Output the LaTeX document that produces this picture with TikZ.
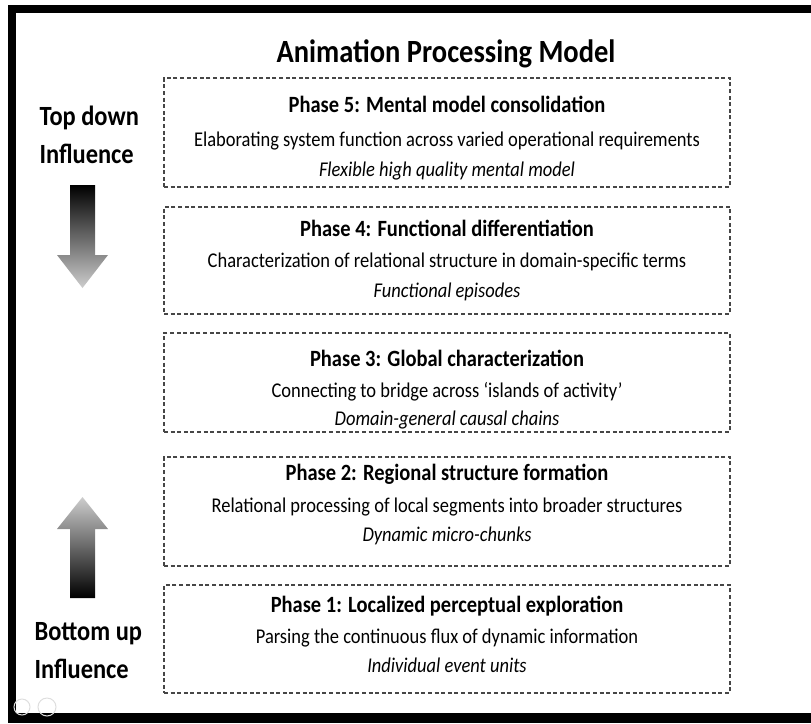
\documentclass[tikz,border=0pt]{standalone}
\usepackage{fontspec}
\setmainfont{Carlito}[FakeStretch=0.88]
\definecolor{dashgray}{RGB}{70,70,70}
\definecolor{iconGray}{RGB}{222,222,222}
\definecolor{tipGray}{RGB}{205,205,205}

\begin{document}
\begin{tikzpicture}[x=1pt,y=-1pt,
  phasebox/.style={draw=dashgray, line width=1.3pt, dash pattern=on 4pt off 2.6pt,
    minimum width=566pt, inner sep=0pt},
  head/.style={font=\fontsize{23.3}{27}\selectfont\bfseries, anchor=base},
  body/.style={font=\fontsize{21}{25}\selectfont, anchor=base},
  note/.style={font=\fontsize{21}{25}\selectfont\itshape, anchor=base},
  side/.style={font=\fontsize{27.8}{33}\selectfont\bfseries, anchor=base west}]
  \useasboundingbox (0,0) rectangle (811,723);
  %% frame (top, left, bottom)
  \fill[black] (8,5) rectangle (811,13);
  \fill[black] (8,5) rectangle (16,723);
  \fill[black] (8,713) rectangle (811,723);
  %% title
  \node[font=\fontsize{32.4}{38}\selectfont\bfseries, anchor=base] (title) at (446,62) {Animation Processing Model};
  %% phase boxes
  \node[phasebox, minimum height=109pt] (p5) at (447,132.5) {};
  \node[phasebox, minimum height=107pt] (p4) at (447,260.5) {};
  \node[phasebox, minimum height=99pt]  (p3) at (447,382.5) {};
  \node[phasebox, minimum height=109pt] (p2) at (447,511.5) {};
  \node[phasebox, minimum height=108pt] (p1) at (447,639) {};
  %% phase texts
  \node[head] (p5a) at (447,112) {Phase 5: Mental model consolidation};
  \node[body] (p5b) at (447,146) {Elaborating system function across varied operational requirements};
  \node[note] (p5c) at (447,176) {Flexible high quality mental model};
  \node[head] (p4a) at (447,236) {Phase 4: Functional differentiation};
  \node[body] (p4b) at (447,267) {Characterization of relational structure in domain-specific terms};
  \node[note] (p4c) at (447,297) {Functional episodes};
  \node[head] (p3a) at (447,366) {Phase 3: Global characterization};
  \node[body] (p3b) at (447,397) {Connecting to bridge across ‘islands of activity’};
  \node[note] (p3c) at (447,425) {Domain-general causal chains};
  \node[head] (p2a) at (447,480) {Phase 2: Regional structure formation};
  \node[body] (p2b) at (447,512) {Relational processing of local segments into broader structures};
  \node[note] (p2c) at (447,541) {Dynamic micro-chunks};
  \node[head] (p1a) at (447,612) {Phase 1: Localized perceptual exploration};
  \node[body] (p1b) at (447,643) {Parsing the continuous flux of dynamic information};
  \node[note] (p1c) at (447,672) {Individual event units};
  %% influence labels
  \node[side] (tdA) at (36,125) {Top down};
  \node[side] (tdB) at (36,163) {Influence};
  \node[side] (buA) at (31,640) {Bottom up};
  \node[side] (buB) at (31,678) {Influence};
  %% shaded arrows
  \shade[top color=black, bottom color=tipGray]
    (70,185) -- (95,185) -- (95,255) -- (108,255) -- (82.5,288) -- (57,255) -- (70,255) -- cycle;
  \shade[top color=tipGray, bottom color=black]
    (82.5,497) -- (108,529) -- (95,529) -- (95,598) -- (70,598) -- (70,529) -- (57,529) -- cycle;
  %% faint player icons
  \draw[iconGray, line width=1pt] (22,707) circle (8pt);
  \draw[iconGray, line width=1pt] (47,707) circle (9pt);
\end{tikzpicture}
\end{document}
